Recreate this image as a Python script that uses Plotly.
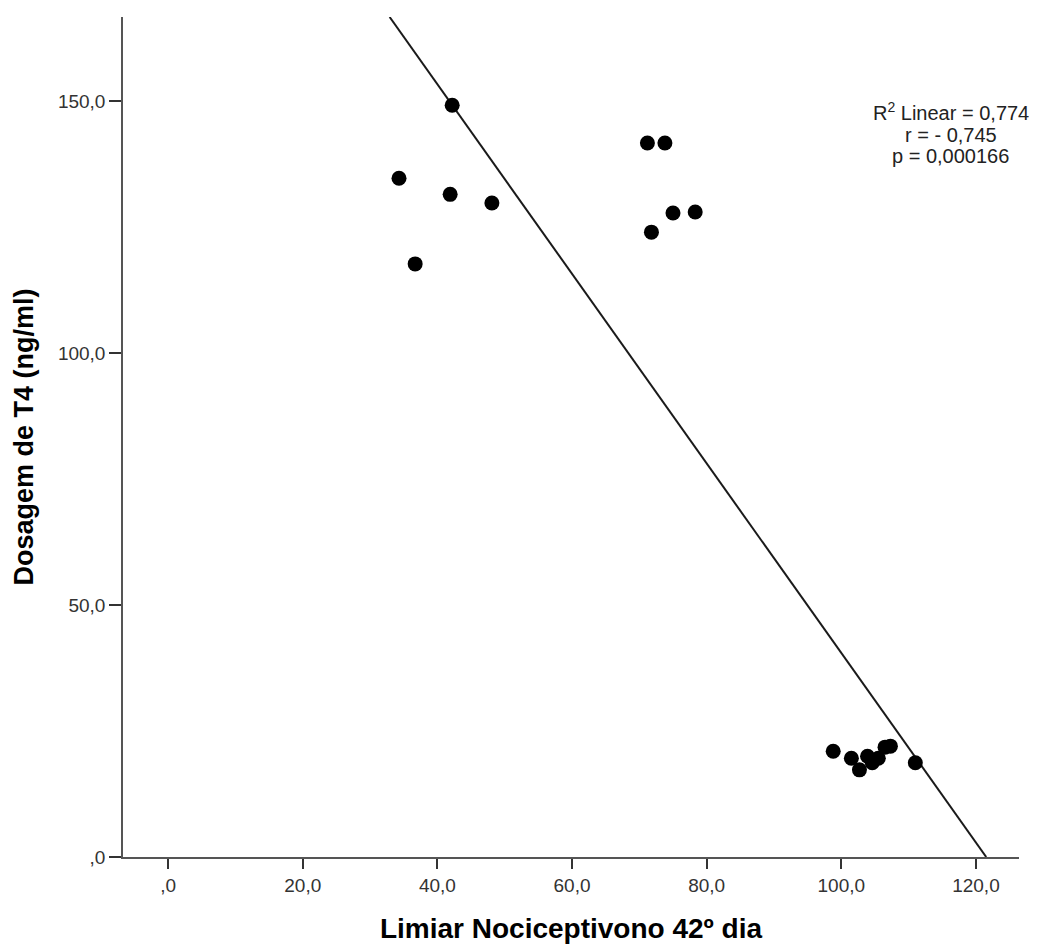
import plotly.graph_objects as go

# Data
limiar = [42.2, 34.3, 41.9, 48.1, 36.7, 71.2, 73.8, 75.0, 78.3, 71.8,
          98.8, 101.5, 102.7, 103.9, 104.6, 105.5, 106.5, 107.3, 111.0]
t4 = [149.2, 134.7, 131.5, 129.8, 117.7, 141.7, 141.7, 127.8, 128.0, 124.0,
      21.0, 19.6, 17.3, 20.0, 18.7, 19.6, 21.8, 22.0, 18.7]

# Fit line as drawn in the reference (intercept, slope)
fit_intercept = 228.6
fit_slope = -1.881

x_tickvals = [0, 20, 40, 60, 80, 100, 120]
x_ticktext = [",0", "20,0", "40,0", "60,0", "80,0", "100,0", "120,0"]
y_tickvals = [0, 50, 100, 150]
y_ticktext = [",0", "50,0", "100,0", "150,0"]

stats_lines = ["R<sup>2</sup> Linear = 0,774", "r = - 0,745", "p = 0,000166"]

x_range = [-6.7, 126.4]
y_range = [0, 166.7]

# line endpoints clipped to plot area
x_top = (y_range[1] - fit_intercept) / fit_slope
x_bot = (0 - fit_intercept) / fit_slope
line_x = [x_top, x_bot]
line_y = [fit_intercept + fit_slope * v for v in line_x]

fig = go.Figure()
fig.add_trace(go.Scatter(x=line_x, y=line_y, mode="lines",
                         line=dict(color="#1a1a1a", width=2),
                         showlegend=False, hoverinfo="skip"))
fig.add_trace(go.Scatter(x=limiar, y=t4, mode="markers",
                         marker=dict(color="black", size=15),
                         showlegend=False))

ann = []
ys = [0.888, 0.860, 0.835]
for txt, yy in zip(stats_lines, ys):
    ann.append(dict(x=0.924, y=yy, xref="paper", yref="paper",
                    xanchor="center", yanchor="middle", showarrow=False,
                    text=txt, font=dict(size=20, color="#222222")))

fig.update_layout(
    width=1029, height=937,
    margin=dict(l=115, r=18, t=9, b=88),
    paper_bgcolor="white", plot_bgcolor="white",
    font=dict(family="Liberation Sans, Arial, sans-serif", color="#222222"),
    xaxis=dict(range=x_range, tickvals=x_tickvals, ticktext=x_ticktext,
               automargin=False,
               showgrid=False, zeroline=False, showline=True,
               linecolor="#555555", linewidth=1.5,
               ticks="outside", ticklen=10, tickcolor="#333333", tickwidth=2,
               tickfont=dict(size=19, color="#333333"),
               title=dict(text="<b>Limiar Nociceptivono 42º dia</b>",
                          font=dict(size=28, color="black"),
                          standoff=24)),
    yaxis=dict(range=y_range, tickvals=y_tickvals, ticktext=y_ticktext,
               automargin=False,
               showgrid=False, zeroline=False, showline=True,
               linecolor="#555555", linewidth=1.5,
               ticks="outside", ticklen=12, tickcolor="#333333", tickwidth=2,
               tickfont=dict(size=19, color="#333333"),
               title=dict(text="<b>Dosagem de T4 (ng/ml)</b>",
                          font=dict(size=27, color="black"),
                          standoff=16)),
    annotations=ann,
)

fig.write_html("out.html")
